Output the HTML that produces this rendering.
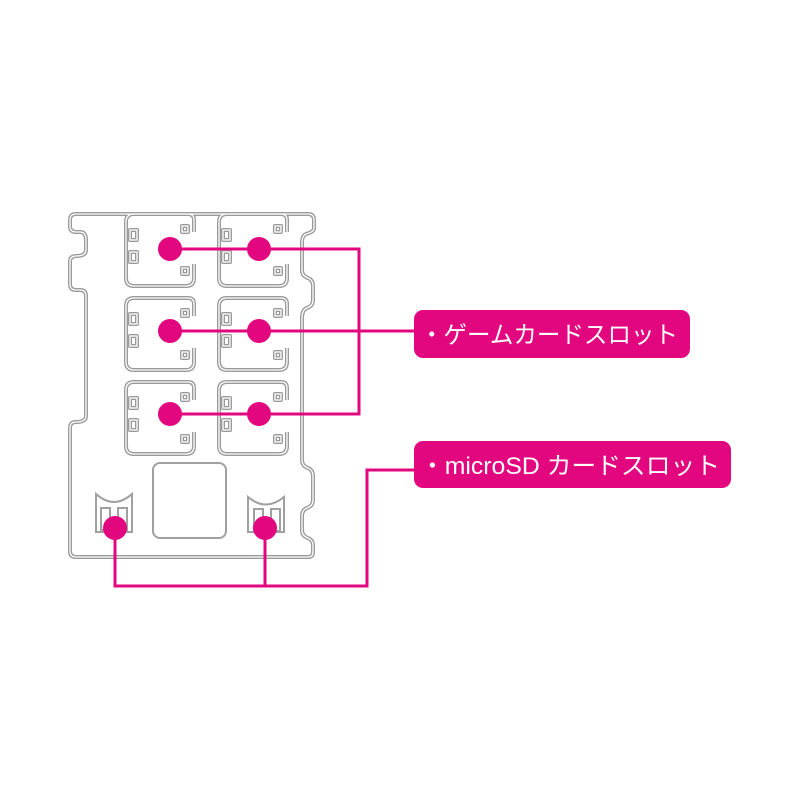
<!DOCTYPE html>
<html><head><meta charset="utf-8"><style>
html,body{margin:0;padding:0;background:#fff;width:800px;height:800px;overflow:hidden}
svg{display:block}
</style></head><body>
<svg width="800" height="800" viewBox="0 0 800 800" xmlns="http://www.w3.org/2000/svg">
<defs>
<g id="slot">
  <path d="M68,20 V8 Q68,2 62,2 H8 Q0,2 0,10 V66 Q0,74 8,74 H60 Q68,74 68,66 V52" fill="none"/>
  <rect x="4" y="18" width="7" height="10" fill="none"/>
  <rect x="4" y="40" width="7" height="10" fill="none"/>
  <rect x="56" y="14" width="6" height="6" fill="none"/>
  <rect x="56" y="56" width="6" height="6" fill="none"/>
</g>
</defs>
<g stroke="#9a9a9a" stroke-width="4" fill="none" stroke-linejoin="round">
  <path id="outer" d="M76,214 H308 Q314,214 314,220 V228 Q314,232 306,234 Q302,236 302,242 V270 Q302,276 308,278 Q313,280 313,286 V300 Q313,306 307,308 Q302,310 302,318 V460 Q302,466 308,468 Q313,470 313,476 V500 Q313,506 307,508 Q302,510 302,516 V530 Q302,536 308,538 Q313,540 313,546 V552 Q313,557 308,557 H76 Q70,557 70,551 V428 Q70,422 76,422 Q86,422 86,416 V296 Q86,290 80,290 H76 Q70,290 70,284 V262 Q70,256 76,256 Q86,256 86,250 V240 Q86,232 80,232 H76 Q70,232 70,226 V220 Q70,214 76,214 Z"/>
  <use href="#slot" x="126" y="212"/>
  <use href="#slot" x="219" y="212"/>
  <use href="#slot" x="126" y="296"/>
  <use href="#slot" x="219" y="296"/>
  <use href="#slot" x="126" y="380"/>
  <use href="#slot" x="219" y="380"/>
</g>
<g stroke="#fff" stroke-width="1.3" fill="none">
  <use href="#outer"/>
  <use href="#slot" x="126" y="212"/>
  <use href="#slot" x="219" y="212"/>
  <use href="#slot" x="126" y="296"/>
  <use href="#slot" x="219" y="296"/>
  <use href="#slot" x="126" y="380"/>
  <use href="#slot" x="219" y="380"/>
</g>
<g stroke="#a0a0a0" stroke-width="2" fill="none">
  <rect x="153" y="463" width="73" height="75" rx="7"/>
  <path d="M96,494 Q114,510 132,494 V532 H96 Z"/>
  <path d="M248,497 Q266,512 284,497 V532 H248 Z"/>
  <rect x="101" y="508" width="9" height="22"/><rect x="118" y="508" width="9" height="22"/>
  <rect x="254" y="509" width="9" height="22"/><rect x="271" y="509" width="9" height="22"/>
</g>
<g stroke="#e2077f" stroke-width="3" fill="none">
  <path d="M170,249 H359 V414 H170 M170,331 H414"/>
  <path d="M115,528 V586 H367 V470 H414 M265,528 V586"/>
</g>
<g fill="#e2077f">
  <circle cx="170" cy="249" r="12"/><circle cx="259" cy="249" r="12"/>
  <circle cx="170" cy="331" r="12"/><circle cx="259" cy="331" r="12"/>
  <circle cx="170" cy="414" r="12"/><circle cx="259" cy="414" r="12"/>
  <circle cx="115" cy="528" r="12"/><circle cx="265" cy="528" r="12"/>
  <rect x="414" y="310" width="276" height="48" rx="9"/>
  <rect x="414" y="441" width="317" height="47" rx="9"/>
</g>
<g fill="#fff" font-family="'Liberation Sans','Noto Sans CJK JP',sans-serif" font-size="24">
  <text x="420" y="343" textLength="258" lengthAdjust="spacingAndGlyphs">・ゲームカードスロット</text>
  <text x="420" y="474" textLength="300" lengthAdjust="spacingAndGlyphs">・microSD カードスロット</text>
</g>
</svg>
</body></html>
